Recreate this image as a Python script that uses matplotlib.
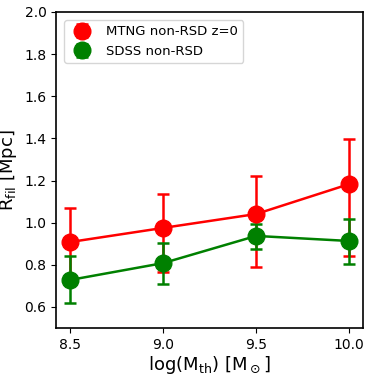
import matplotlib
matplotlib.use("Agg")
import matplotlib.pyplot as plt

x = [8.5, 9.0, 9.5, 10.0]
mtng = [0.908, 0.975, 1.041, 1.183]
mtng_lo = [0.75, 0.766, 0.79, 0.842]
mtng_hi = [1.07, 1.136, 1.220, 1.397]
sdss = [0.728, 0.808, 0.937, 0.913]
sdss_lo = [0.619, 0.709, 0.875, 0.804]
sdss_hi = [0.842, 0.903, 0.994, 1.017]

fig = plt.figure(figsize=(3.74, 3.74), dpi=100)
ax = fig.add_axes([0.150, 0.123, 0.821, 0.845])

def err(v, lo, hi):
    return [[a - b for a, b in zip(v, lo)], [c - a for a, c in zip(v, hi)]]

ax.plot(x, mtng, color='red', lw=1.8)
ax.errorbar(x, mtng, yerr=err(mtng, mtng_lo, mtng_hi), color='red', fmt='o',
            markersize=12, elinewidth=1.8, capsize=4, capthick=1.8, label='MTNG non-RSD z=0')
ax.plot(x, sdss, color='green', lw=1.8)
ax.errorbar(x, sdss, yerr=err(sdss, sdss_lo, sdss_hi), color='green', fmt='o',
            markersize=12, elinewidth=1.8, capsize=4, capthick=1.8, label='SDSS non-RSD')

ax.set_ylim(0.5, 2.0)
ax.set_xticks([8.5, 9.0, 9.5, 10.0])
ax.set_yticks([0.6, 0.8, 1.0, 1.2, 1.4, 1.6, 1.8, 2.0])
ax.tick_params(labelsize=10)
ax.set_xlabel(r'log(M$_{\rm th}$) [M$_\odot$]', fontsize=13, labelpad=2)
ax.set_ylabel(r'R$_{\rm fil}$ [Mpc]', fontsize=13)
ax.legend(loc='upper left', fontsize=9.5, borderaxespad=0.6)
for s in ax.spines.values():
    s.set_linewidth(1.2)
fig.savefig('out.png', dpi=100)
